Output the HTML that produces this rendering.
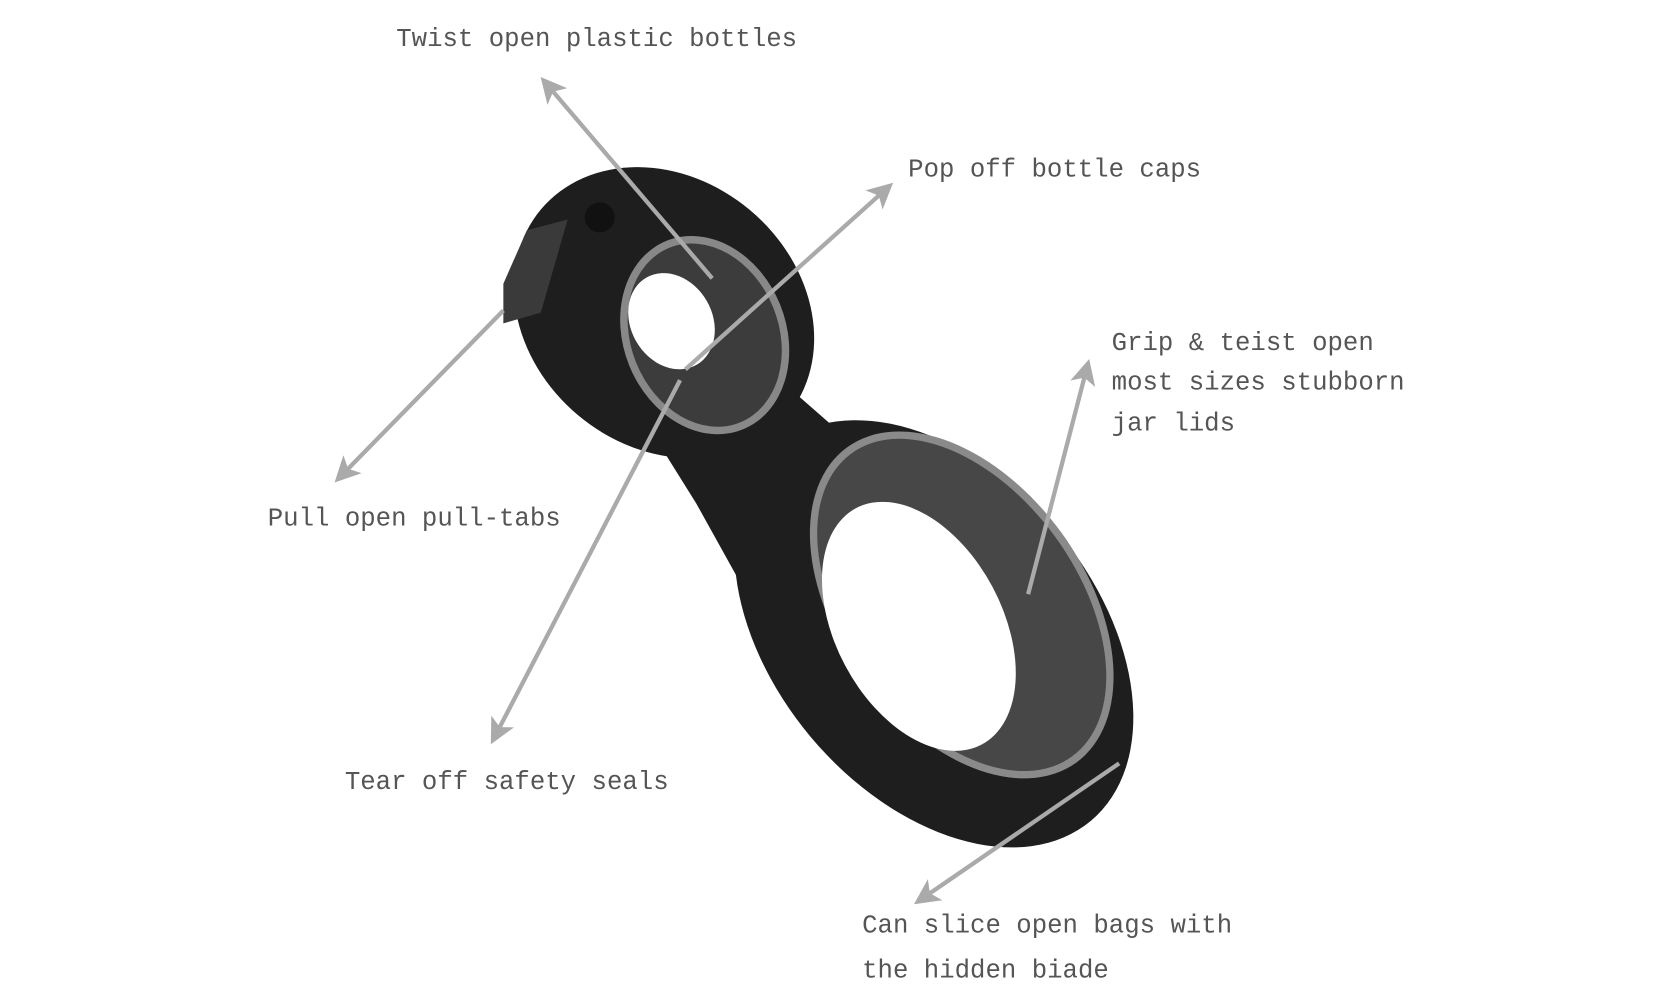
<!DOCTYPE html>
<html><head><meta charset="utf-8"><style>
html,body{margin:0;padding:0;background:#fff;width:1660px;height:1000px;overflow:hidden}
svg{display:block}
text{font-family:"Liberation Mono",monospace;font-size:24px;fill:#555}
</style></head><body>
<svg width="1660" height="1000" viewBox="0 0 1550 934" preserveAspectRatio="none">
<defs>
<marker id="a" markerWidth="6" markerHeight="6" refX="4" refY="3" orient="auto" markerUnits="strokeWidth">
<path d="M0,0 L6,3 L0,6 L1.5,3 Z" fill="#aaa"/></marker>
</defs>
<g>
<ellipse cx="620" cy="292" rx="150" ry="125" transform="rotate(40 620 292)" fill="#1e1e1e"/>
<path d="M600,390 L700,330 L780,400 L760,450 L700,560 L650,470 Z" fill="#1e1e1e"/>
<ellipse cx="872" cy="592" rx="228" ry="150" transform="rotate(50 872 592)" fill="#1e1e1e"/>
<path d="M470,265 L492,215 L530,205 L505,292 L470,302 Z" fill="#3a3a3a"/>
<circle cx="560" cy="203" r="14" fill="#111"/>
<ellipse cx="658" cy="313" rx="95" ry="76" transform="rotate(68 658 313)" fill="#888"/>
<ellipse cx="658" cy="313" rx="88" ry="69" transform="rotate(68 658 313)" fill="#3c3c3c"/>
<ellipse cx="627" cy="300" rx="47" ry="38" transform="rotate(60 627 300)" fill="#fff"/>
<ellipse cx="898" cy="565" rx="182" ry="115" transform="rotate(54 898 565)" fill="#8a8a8a"/>
<ellipse cx="898" cy="565" rx="175" ry="108" transform="rotate(54 898 565)" fill="#474747"/>
<ellipse cx="858" cy="585" rx="125" ry="78" transform="rotate(62 858 585)" fill="#fff"/>
</g>
<g stroke="#aaa" stroke-width="4" fill="none">
<line x1="665" y1="260" x2="510" y2="78" marker-end="url(#a)"/>
<line x1="640" y1="345" x2="828" y2="176" marker-end="url(#a)"/>
<line x1="470" y1="290" x2="318" y2="445" marker-end="url(#a)"/>
<line x1="635" y1="355" x2="462" y2="688" marker-end="url(#a)"/>
<line x1="960" y1="555" x2="1015" y2="343" marker-end="url(#a)"/>
<line x1="1045" y1="713" x2="860" y2="840" marker-end="url(#a)"/>
</g>
<text x="370" y="43">Twist open plastic bottles</text>
<text x="848" y="165">Pop off bottle caps</text>
<text x="1038" y="327">Grip &amp; teist open</text>
<text x="1038" y="364">most sizes stubborn</text>
<text x="1038" y="402">jar lids</text>
<text x="250" y="491">Pull open pull-tabs</text>
<text x="322" y="737">Tear off safety seals</text>
<text x="805" y="871">Can slice open bags with</text>
<text x="805" y="913">the hidden biade</text>
</svg>
</body></html>
